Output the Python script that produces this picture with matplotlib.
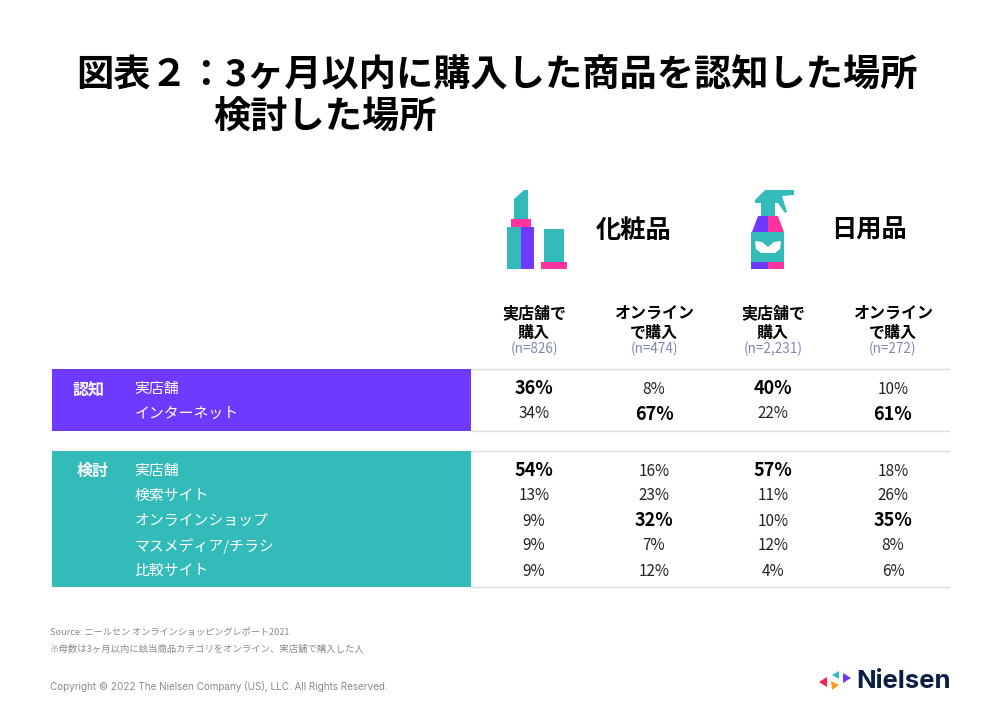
import matplotlib
matplotlib.use('Agg')
import matplotlib.pyplot as plt
from matplotlib.patches import Rectangle, Polygon

plt.rcParams['font.family'] = ['Noto Sans CJK JP', 'DejaVu Sans']

PURPLE = '#6E3AFF'
TEAL = '#33BBBA'
PINK = '#FF33A0'
LINE = '#DDDDDD'
GREY = '#8A8A8A'
NAVY = '#8088AD'

title_lines = ['図表２：3ヶ月以内に購入した商品を認知した場所', '検討した場所']
products = ['化粧品', '日用品']
col_heads = ['実店舗で\n購入', 'オンライン\nで購入', '実店舗で\n購入', 'オンライン\nで購入']
col_n = ['(n=826)', '(n=474)', '(n=2,231)', '(n=272)']

aware_rows = ['実店舗', 'インターネット']
aware_vals = [[36, 8, 40, 10],
              [34, 67, 22, 61]]
aware_bold = [[1, 0, 1, 0],
              [0, 1, 0, 1]]

consider_rows = ['実店舗', '検索サイト', 'オンラインショップ', 'マスメディア/チラシ', '比較サイト']
consider_vals = [[54, 16, 57, 18],
                 [13, 23, 11, 26],
                 [9, 32, 10, 35],
                 [9, 7, 12, 8],
                 [9, 12, 4, 6]]
consider_bold = [[1, 0, 1, 0],
                 [0, 0, 0, 0],
                 [0, 1, 0, 1],
                 [0, 0, 0, 0],
                 [0, 0, 0, 0]]

col_x = [534, 654, 773, 893]

fig = plt.figure(figsize=(10, 7.16), dpi=100, facecolor='white')
ax = fig.add_axes([0, 0, 1, 1])
ax.set_xlim(0, 1000)
ax.set_ylim(716, 0)
ax.axis('off')


def rect(x0, y0, x1, y1, color, z=2):
    ax.add_patch(Rectangle((x0, y0), x1 - x0, y1 - y0, facecolor=color, edgecolor='none', zorder=z))


def poly(pts, color, z=2):
    ax.add_patch(Polygon(pts, closed=True, facecolor=color, edgecolor='none', zorder=z))


def draw_block(top, bottom, color, label, label_x, label_y, rows, vals, bold, first_y, step):
    rect(52, top, 471, bottom, color)
    ax.plot([471, 949], [top, top], color=LINE, lw=1, zorder=1)
    ax.plot([471, 949], [bottom, bottom], color=LINE, lw=1, zorder=1)
    ax.text(label_x, label_y, label, color='white', fontsize=11.5,
            fontweight='bold', ha='center', va='center', zorder=3)
    for i, name in enumerate(rows):
        y = first_y + i * step
        ax.text(134.5, y, name, color='white', fontsize=10.7, ha='left', va='center', zorder=3)
        for x, v, b in zip(col_x, vals[i], bold[i]):
            if b:
                ax.text(x, y, f'{v}%', color='black', fontsize=13, fontweight='bold', ha='center', va='center')
            else:
                ax.text(x, y, f'{v}%', color='#222222', fontsize=11, ha='center', va='center')


# タイトル
ax.text(76, 76, title_lines[0], fontsize=26.8, fontweight='bold', color='black', ha='left', va='center')
ax.text(213, 118, title_lines[1], fontsize=26.8, fontweight='bold', color='black', ha='left', va='center')

# 口紅アイコン
poly([(514, 199), (524, 190), (528, 190), (528, 219), (514, 219)], TEAL)
rect(511, 219, 531, 227, PINK)
rect(507, 227, 521, 269, TEAL)
rect(521, 227, 534, 269, PURPLE)
rect(544, 229, 564, 262, TEAL)
rect(541, 262, 567, 269, PINK)

# スプレーアイコン
poly([(755, 200), (765, 190), (794, 190), (794, 195), (782, 196), (787, 212), (785, 213), (778, 203), (755, 203)], TEAL)
rect(761, 203, 775, 216, TEAL)
poly([(758, 216), (768, 216), (768, 232), (752, 232)], PURPLE)
poly([(768, 216), (778, 216), (784, 232), (768, 232)], PINK)
rect(751, 232, 784, 262, TEAL)
rect(751, 262, 768, 269, PURPLE)
rect(768, 262, 784, 269, PINK)
poly([(755, 241), (762, 242), (768, 247), (774, 242), (781, 241), (780, 249), (775, 253), (761, 253), (756, 249)], 'white', 3)

ax.text(633.5, 230, products[0], fontsize=18.2, fontweight='bold', color='black', ha='center', va='center')
ax.text(868.5, 230, products[1], fontsize=18.2, fontweight='bold', color='black', ha='center', va='center')

# 列見出し
for x, head, n in zip(col_x, col_heads, col_n):
    l1, l2 = head.split('\n')
    ax.text(x, 313, l1, fontsize=11.5, fontweight='bold', color='black', ha='center', va='center')
    ax.text(x, 333, l2, fontsize=11.5, fontweight='bold', color='black', ha='center', va='center')
    ax.text(x, 349, n, fontsize=9.8, color=NAVY, ha='center', va='center')

# 表
draw_block(368.5, 431, PURPLE, '認知', 88.5, 391, aware_rows, aware_vals, aware_bold, 389, 25)
draw_block(450.5, 587, TEAL, '検討', 92.5, 471, consider_rows, consider_vals, consider_bold, 471, 25)

# 注記
ax.text(50, 632, 'Source: ニールセン オンラインショッピングレポート2021', fontsize=6.6, color=GREY, ha='left', va='center')
ax.text(50, 649, '※母数は3ヶ月以内に該当商品カテゴリをオンライン、実店舗で購入した人', fontsize=6.75, color=GREY, ha='left', va='center')
ax.text(50, 686, 'Copyright © 2022 The Nielsen Company (US), LLC. All Rights Reserved.', fontsize=7.15, color=GREY,
        family=['Inter', 'DejaVu Sans'], ha='left', va='center')

# ロゴ
poly([(819, 682), (827, 677), (827, 687)], '#F0224F')
poly([(839, 671), (839, 679), (832, 675)], TEAL)
poly([(843, 673), (851, 678), (843, 683)], PURPLE)
poly([(831, 681), (839, 685), (832, 690)], '#FF9A1F')
ax.text(856, 682, 'Nielsen', fontsize=18.5, fontweight='bold', color='#0B1F45',
        family=['Inter', 'DejaVu Sans'], ha='left', va='center')

fig.savefig('out.png', dpi=100, facecolor='white')
